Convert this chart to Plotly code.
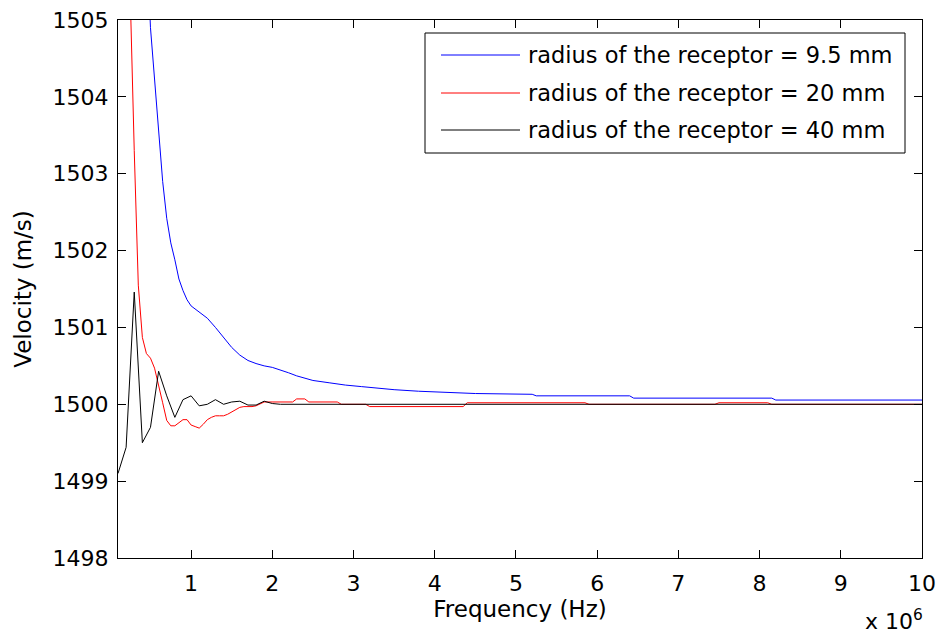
import plotly.graph_objects as go

# ---------------- data (frequency in units of 1e6 Hz) ----------------
series_names = [
    "radius of the receptor = 9.5 mm",
    "radius of the receptor = 20 mm",
    "radius of the receptor = 40 mm",
]

freq_blue = [0.4, 0.45, 0.5, 0.55, 0.6, 0.65, 0.7, 0.75, 0.8, 0.85, 0.9, 0.95, 1.0,
             1.1, 1.2, 1.3, 1.4, 1.5, 1.6, 1.7, 1.8, 1.9, 2.0, 2.1, 2.2, 2.3, 2.4,
             2.5, 2.7, 2.9, 3.1, 3.3, 3.5, 3.8, 4.1, 4.5, 5.2, 5.25, 6.4, 6.45,
             8.15, 8.2, 10.0]
vel_blue = [1507.6, 1506.1, 1504.9, 1504.2, 1503.55, 1502.9, 1502.42, 1502.1,
            1501.88, 1501.63, 1501.48, 1501.36, 1501.28, 1501.2, 1501.12, 1501.0,
            1500.87, 1500.74, 1500.64, 1500.57, 1500.53, 1500.5, 1500.48, 1500.45,
            1500.41, 1500.37, 1500.34, 1500.31, 1500.28, 1500.25, 1500.23, 1500.21,
            1500.19, 1500.17, 1500.16, 1500.14, 1500.13, 1500.11, 1500.11, 1500.08,
            1500.08, 1500.055, 1500.055]

freq_red = [0.2, 0.25, 0.3, 0.35, 0.4, 0.45, 0.5, 0.55, 0.6, 0.65, 0.7, 0.75, 0.8,
            0.85, 0.9, 0.95, 1.0, 1.05, 1.1, 1.15, 1.2, 1.25, 1.3, 1.35, 1.4, 1.45,
            1.5, 1.55, 1.6, 1.65, 1.7, 1.75, 1.8, 1.85, 1.9, 2.25, 2.3, 2.4, 2.45,
            2.8, 2.85, 3.15, 3.2, 4.35, 4.4, 5.85, 5.9, 7.45, 7.5, 8.1, 8.15, 10.0]
vel_red = [1507.4, 1505.2, 1503.3, 1501.55, 1500.87, 1500.66, 1500.6, 1500.47,
           1500.26, 1500.02, 1499.79, 1499.72, 1499.72, 1499.76, 1499.8, 1499.8,
           1499.73, 1499.71, 1499.69, 1499.74, 1499.8, 1499.83, 1499.85, 1499.85,
           1499.85, 1499.87, 1499.9, 1499.93, 1499.96, 1499.97, 1499.97, 1499.97,
           1499.98, 1500.01, 1500.03, 1500.03, 1500.07, 1500.07, 1500.03,
           1500.03, 1500.0, 1500.0, 1499.97, 1499.97, 1500.02, 1500.02, 1500.0,
           1500.0, 1500.02, 1500.02, 1500.0, 1500.0]

freq_black = [0.1, 0.2, 0.3, 0.4, 0.5, 0.6, 0.7, 0.8, 0.9, 1.0, 1.1, 1.2, 1.3, 1.4,
              1.5, 1.6, 1.7, 1.8, 1.9, 2.0, 2.1, 10.0]
vel_black = [1499.1, 1499.44, 1501.46, 1499.5, 1499.7, 1500.43, 1500.11, 1499.83,
             1500.06, 1500.11, 1499.98, 1500.0, 1500.06, 1500.0, 1500.03, 1500.04,
             1499.99, 1499.99, 1500.04, 1500.01, 1500.0, 1500.0]

x_ticks = [1, 2, 3, 4, 5, 6, 7, 8, 9, 10]
y_ticks = [1498, 1499, 1500, 1501, 1502, 1503, 1504, 1505]

colors = ["#0000ff", "#ff0000", "#000000"]

# ---------------- figure ----------------
W, H = 940, 637
L, R, T, B = 118, 922, 20, 558
FONT = "DejaVu Sans, Liberation Sans, Arial, sans-serif"
FS_TICK = 22
FS = 23
FS_LEG = 22.5

fig = go.Figure()
for fx, vy, name, c in zip([freq_blue, freq_red, freq_black],
                           [vel_blue, vel_red, vel_black], series_names, colors):
    fig.add_trace(go.Scatter(x=fx, y=vy, mode="lines", name=name,
                             line=dict(color=c, width=1), showlegend=False))

def px_x(p):
    return (p - L) / (R - L)

def px_y(p):
    return (B - p) / (B - T)

shapes = []
annotations = []
# legend box
shapes.append(dict(type="rect", xref="paper", yref="paper",
                   x0=px_x(425), x1=px_x(905), y0=px_y(153), y1=px_y(33),
                   line=dict(color="black", width=1), fillcolor="white", layer="above"))
for i, (name, c) in enumerate(zip(series_names, colors)):
    yy = [55, 93, 130][i]
    shapes.append(dict(type="line", xref="paper", yref="paper",
                       x0=px_x(441), x1=px_x(520), y0=px_y(yy), y1=px_y(yy),
                       line=dict(color=c, width=1), layer="above"))
    annotations.append(dict(xref="paper", yref="paper", x=px_x(526), y=px_y(yy),
                            xanchor="left", yanchor="middle", text=name,
                            showarrow=False, font=dict(size=FS_LEG, color="black", family=FONT)))

annotations.append(dict(xref="paper", yref="paper", x=px_x(925), y=px_y(620),
                        xanchor="right", yanchor="middle", text="x 10<sup>6</sup>",
                        showarrow=False, font=dict(size=FS_TICK, color="black", family=FONT)))

fig.update_layout(
    width=W, height=H,
    margin=dict(l=L, r=W - R, t=T, b=H - B, pad=0),
    paper_bgcolor="white", plot_bgcolor="white",
    font=dict(family=FONT, size=FS_TICK, color="black"),
    shapes=shapes, annotations=annotations,
    xaxis=dict(range=[0.1, 10], tickvals=x_ticks, ticktext=[str(v) for v in x_ticks],
               ticks="inside", ticklen=8, tickcolor="black", tickwidth=1,
               showline=True, linecolor="black", linewidth=1, mirror="ticks",
               showgrid=False, zeroline=False, automargin=False,
               title=dict(text="Frequency (Hz)", standoff=2, font=dict(size=FS)),
               ticklabelstandoff=6),
    yaxis=dict(range=[1498, 1505], tickvals=y_ticks, ticktext=[str(v) for v in y_ticks],
               ticks="inside", ticklen=8, tickcolor="black", tickwidth=1,
               showline=True, linecolor="black", linewidth=1, mirror="ticks",
               showgrid=False, zeroline=False, automargin=False,
               title=dict(text="Velocity (m/s)", standoff=14, font=dict(size=FS)),
               ticklabelstandoff=4),
)

fig.write_html("out.html", config={"displayModeBar": False},
               post_script="document.body.style.margin='0';document.body.style.padding='0';")
